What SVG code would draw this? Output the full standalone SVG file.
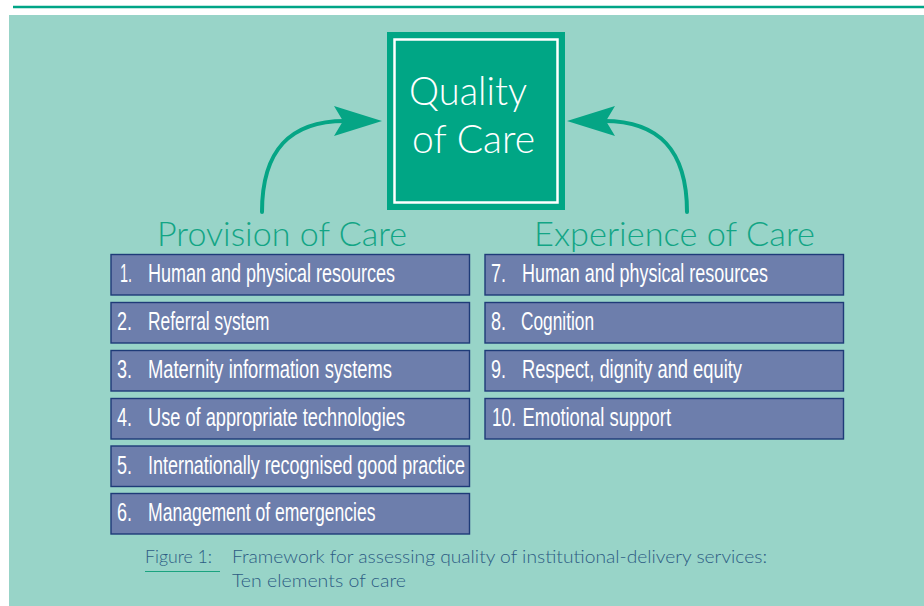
<svg xmlns="http://www.w3.org/2000/svg" width="924" height="606" viewBox="0 0 924 606">
  <style>
    .item rect { fill: #6d7eac; stroke: #1e3b78; stroke-width: 1.4; }
    .item text { fill: #ffffff; font-family: "Liberation Sans Narrow", "Liberation Sans", "DejaVu Sans Condensed", sans-serif; font-size: 26px; }
    .heading { fill: #12a585; font-family: Lato, "Liberation Sans", sans-serif; font-weight: 300; font-size: 34px; }
    .qtext { fill: #ffffff; font-family: Lato, "Liberation Sans", sans-serif; font-weight: 300; font-size: 39px; }
    .caption { fill: #2d5c84; font-family: Lato, "Liberation Sans", sans-serif; font-weight: 300; font-size: 18px; }
    .conn { fill: none; stroke: #05a585; stroke-width: 4; stroke-linecap: round; }
    .head { fill: #05a585; }
  </style>

  <rect x="0" y="0" width="924" height="606" fill="#ffffff"/>
  <line x1="13" y1="7" x2="924" y2="7" stroke="#00a586" stroke-width="2.7"/>
  <rect x="9" y="15" width="915" height="591" fill="#98d4c8"/>

  <g id="quality-of-care">
    <rect x="387" y="32" width="178" height="178" fill="#00a685"/>
    <rect x="394.5" y="39.5" width="163" height="163" fill="none" stroke="#ffffff" stroke-width="2.5"/>
    <text class="qtext" x="409" y="105" textLength="118" lengthAdjust="spacingAndGlyphs">Quality</text>
    <text class="qtext" x="412" y="153" textLength="123" lengthAdjust="spacingAndGlyphs">of Care</text>
  </g>

  <g id="connectors">
    <path class="conn" d="M262,212 C262,150 290,121 345,121"/>
    <polygon class="head" points="382,121 334,106 343,121 334,136"/>
    <path class="conn" d="M687,212 C687,150 659,121 604,121"/>
    <polygon class="head" points="567,121 615,106 606,121 615,136"/>
  </g>

  <g id="provision-of-care">
    <text class="heading" x="157" y="246" textLength="250" lengthAdjust="spacingAndGlyphs">Provision of Care</text>
  </g>
  <g id="experience-of-care">
    <text class="heading" x="534" y="246" textLength="281" lengthAdjust="spacingAndGlyphs">Experience of Care</text>
  </g>

  <g id="item-1" class="item">
    <rect x="111" y="254.5" width="358.5" height="40.5"/>
    <text y="282"><tspan x="120" textLength="12" lengthAdjust="spacingAndGlyphs">1.</tspan><tspan x="148" textLength="247" lengthAdjust="spacingAndGlyphs">Human and physical resources</tspan></text>
  </g>
  <g id="item-2" class="item">
    <rect x="111" y="302.5" width="358.5" height="40.5"/>
    <text y="330"><tspan x="117" textLength="15" lengthAdjust="spacingAndGlyphs">2.</tspan><tspan x="148" textLength="121.5" lengthAdjust="spacingAndGlyphs">Referral system</tspan></text>
  </g>
  <g id="item-3" class="item">
    <rect x="111" y="350.5" width="358.5" height="40.5"/>
    <text y="378"><tspan x="117" textLength="15" lengthAdjust="spacingAndGlyphs">3.</tspan><tspan x="148" textLength="244" lengthAdjust="spacingAndGlyphs">Maternity information systems</tspan></text>
  </g>
  <g id="item-4" class="item">
    <rect x="111" y="398.5" width="358.5" height="40.5"/>
    <text y="426"><tspan x="117" textLength="15" lengthAdjust="spacingAndGlyphs">4.</tspan><tspan x="148" textLength="257" lengthAdjust="spacingAndGlyphs">Use of appropriate technologies</tspan></text>
  </g>
  <g id="item-5" class="item">
    <rect x="111" y="446" width="358.5" height="40.5"/>
    <text y="473.5"><tspan x="117" textLength="15" lengthAdjust="spacingAndGlyphs">5.</tspan><tspan x="148" textLength="317" lengthAdjust="spacingAndGlyphs">Internationally recognised good practice</tspan></text>
  </g>
  <g id="item-6" class="item">
    <rect x="111" y="493.5" width="358.5" height="40.5"/>
    <text y="521"><tspan x="117" textLength="15" lengthAdjust="spacingAndGlyphs">6.</tspan><tspan x="148" textLength="227.5" lengthAdjust="spacingAndGlyphs">Management of emergencies</tspan></text>
  </g>

  <g id="item-7" class="item">
    <rect x="485" y="254.5" width="358.5" height="40.5"/>
    <text y="282"><tspan x="491" textLength="15" lengthAdjust="spacingAndGlyphs">7.</tspan><tspan x="522" textLength="246" lengthAdjust="spacingAndGlyphs">Human and physical resources</tspan></text>
  </g>
  <g id="item-8" class="item">
    <rect x="485" y="302.5" width="358.5" height="40.5"/>
    <text y="330"><tspan x="491" textLength="15" lengthAdjust="spacingAndGlyphs">8.</tspan><tspan x="521" textLength="73" lengthAdjust="spacingAndGlyphs">Cognition</tspan></text>
  </g>
  <g id="item-9" class="item">
    <rect x="485" y="350.5" width="358.5" height="40.5"/>
    <text y="378"><tspan x="491" textLength="15" lengthAdjust="spacingAndGlyphs">9.</tspan><tspan x="522" textLength="220" lengthAdjust="spacingAndGlyphs">Respect, dignity and equity</tspan></text>
  </g>
  <g id="item-10" class="item">
    <rect x="485" y="398.5" width="358.5" height="40.5"/>
    <text y="426"><tspan x="492" textLength="24" lengthAdjust="spacingAndGlyphs">10.</tspan><tspan x="522.5" textLength="148.5" lengthAdjust="spacingAndGlyphs">Emotional support</tspan></text>
  </g>

  <g id="caption">
    <text class="caption" x="145" y="563" textLength="67" lengthAdjust="spacingAndGlyphs">Figure 1:</text>
    <line x1="145" y1="571.5" x2="220" y2="571.5" stroke="#1aa37f" stroke-width="1.2"/>
    <text class="caption" x="232" y="563" textLength="535" lengthAdjust="spacingAndGlyphs">Framework for assessing quality of institutional-delivery services:</text>
    <text class="caption" x="232" y="587" textLength="174" lengthAdjust="spacingAndGlyphs">Ten elements of care</text>
  </g>
</svg>
